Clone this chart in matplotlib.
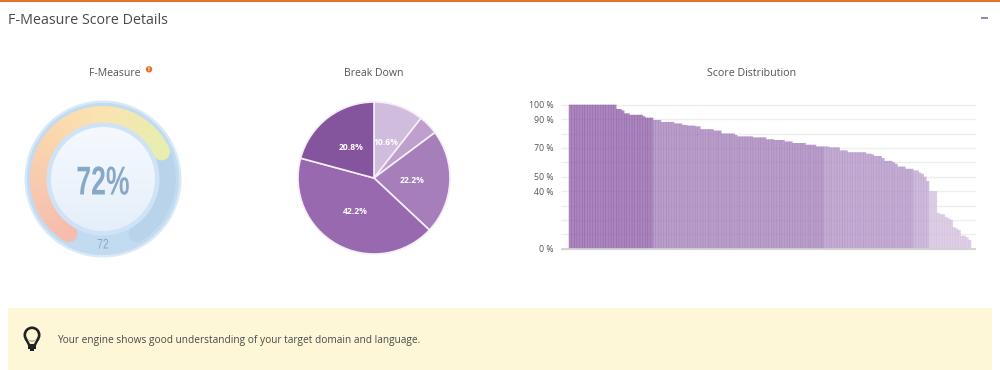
import matplotlib
matplotlib.use("Agg")
import matplotlib.pyplot as plt
import matplotlib.patheffects as pe
from matplotlib.transforms import Affine2D
import numpy as np
from matplotlib.patches import Circle, Wedge, Rectangle, Polygon
from matplotlib.colors import LinearSegmentedColormap

# ---- data ----
title = "F-Measure Score Details"
gauge_value = 72
gauge_label = "72%"
gauge_small = "72"
break_down = [10.6, 4.2, 22.2, 42.2, 20.8]
pie_colors = ["#d0bcdc", "#bfa0cd", "#a67fba", "#9869ae", "#84549c"]
band_counts = [32, 65, 34, 6, 16]
band_colors = ["#8a58a4", "#a079b6", "#ad8cc2", "#bba1cd", "#d0bcdc"]
scores = [100]*18 + [97]*2 + [96] + [94]*2 + [93]*5 + [92] + [91]*3 + [89.4]*3 \
    + [88]*5 + [87]*3 + [86]*2 + [85.5]*3 + [85]*2 + [83]*5 + [82]*3 + [80]*5 + [79] + [78]*6 \
    + [77.3]*5 + [76]*3 + [75.5]*4 + [74.5]*3 + [73.4]*5 + [72.2]*4 + [71]*5 + [70.4]*4 \
    + [68.3]*3 + [67]*7 + [66]*2 + [65.5] + [64.4]*3 + [63] + [61]*3 + [60] + [59] + [57]*3 \
    + [55.5]*3 + [54.4]*2 + [53] + [52] + [50] + [47] + [40]*3 + [25] + [24]*2 + [22] + [21] + [20] \
    + [15] + [14] + [13] + [9]*2 + [8] + [6]
grid_ticks = list(range(0, 101, 10))
labelled_ticks = [0, 40, 50, 70, 90, 100]
message = "Your engine shows good understanding of your target domain and language."

W, H = 1000, 370
FONT = "Open Sans"
plt.rcParams["font.family"] = [FONT, "DejaVu Sans"]
fig = plt.figure(figsize=(W/100, H/100), dpi=100, facecolor="white")

def axes_px(x0, y0, x1, y1):
    """axes from pixel box (y measured from the top of the picture)"""
    return fig.add_axes([x0/W, 1-y1/H, (x1-x0)/W, (y1-y0)/H])

class Squeeze(pe.AbstractPathEffect):
    """Narrow a real text horizontally about a pixel column (condensed face)."""
    def __init__(self, cx, sx):
        super().__init__()
        self.cx, self.sx = cx, sx
    def draw_path(self, renderer, gc, tpath, affine, rgbFace=None):
        t = affine + Affine2D().translate(-self.cx, 0).scale(self.sx, 1).translate(self.cx, 0)
        renderer.draw_path(gc, tpath, t, rgbFace)

# ---- page furniture ----
bg = axes_px(0, 0, W, H)
bg.set_xlim(0, W); bg.set_ylim(H, 0); bg.axis("off")
bg.add_patch(Rectangle((0, 0), W, 2, fc="#e8702a", ec="none"))
bg.text(8, 20, title, fontsize=10.3, color="#4a4a4a", va="center", ha="left")
bg.add_patch(Rectangle((980.5, 16.5), 7, 2.4, fc="#8a8fa8", ec="none"))
bg.text(115, 73.5, "F-Measure", fontsize=7.6, color="#555555", ha="center", va="center")
bg.add_patch(Circle((149, 69.3), 3.2, fc="#e8702a", ec="none"))
bg.text(149, 69.3, "!", fontsize=4.5, color="white", ha="center", va="center", fontweight="bold")
bg.text(374, 73.5, "Break Down", fontsize=7.6, color="#555555", ha="center", va="center")
bg.text(752, 73.5, "Score Distribution", fontsize=7.65, color="#555555", ha="center", va="center")
bg.add_patch(Rectangle((8, 308), 984, 62, fc="#fdf7d8", ec="none"))
bg.text(57, 340, message, fontsize=7.26, color="#4a4a4a", ha="left", va="center")
# bulb icon
bg.add_patch(Circle((32, 335), 7.2, fc="none", ec="#222222", lw=1.9))
bg.add_patch(Polygon([[26.5, 338.5], [28.5, 345], [35.5, 345], [37.5, 338.5], [33.8, 342], [30.2, 342]],
                     fc="#fdf7d8", ec="#fdf7d8", lw=1))
bg.plot([26.3, 28.9], [339.5, 344.5], color="#222222", lw=1.8)
bg.plot([37.7, 35.1], [339.5, 344.5], color="#222222", lw=1.8)
bg.add_patch(Rectangle((28.3, 344), 7.4, 5.2, fc="#222222", ec="none"))
bg.add_patch(Rectangle((29.8, 349), 4.4, 2, fc="#222222", ec="none"))

# ---- gauge ----
ga = axes_px(23, 99, 183, 259)
ga.set_xlim(-80, 80); ga.set_ylim(-80, 80); ga.axis("off")
disc = "#c3dbf0"
ga.add_patch(Circle((0, 0), 78.5, fc="#d9e9f7", ec="none", zorder=1))
ga.add_patch(Circle((0, 0), 76, fc=disc, ec="none", zorder=1))
START, SWEEP = 148.0, 296.0        # degrees either side of the top / total
R_OUT, R_IN = 73, 56
R_MID, R_W = (R_OUT+R_IN)/2, R_OUT-R_IN
def ang(frac):   # frac of sweep -> matplotlib angle
    return 90 + START - frac*SWEEP
def cap(frac, color):
    a = np.radians(ang(frac))
    ga.add_patch(Circle((R_MID*np.cos(a), R_MID*np.sin(a)), R_W/2, fc=color, ec="none", zorder=2))
track = "#b9d4ea"
cap(0, track); cap(1, track)
ga.add_patch(Wedge((0, 0), R_OUT, ang(1), ang(0), width=R_W, fc=track, ec="none", zorder=2))
cmap = LinearSegmentedColormap.from_list("g", ["#f7bcae", "#f9cfae", "#fce3b0", "#e7efb0"])
end = gauge_value/100
cap(0, cmap(0.0)); cap(end, cmap(1.0))
# gradient along the arc: angle of every image cell -> share of the coloured sweep
gx, gy = np.meshgrid(np.linspace(-80, 80, 640), np.linspace(-80, 80, 640))
cw_from_top = np.degrees(np.arctan2(gx, gy))
share = np.clip((cw_from_top + START)/(SWEEP*end), 0, 1)
arc_img = ga.imshow(cmap(share), extent=[-80, 80, -80, 80], origin="lower", aspect="auto", zorder=3)
arc_clip = Wedge((0, 0), R_OUT+1, ang(end), ang(0), width=R_W+2, fc="none", ec="none", zorder=3)
ga.add_patch(arc_clip)
arc_img.set_clip_path(arc_clip)
ga.add_patch(Wedge((0, 0), 76, 0, 360, width=3, fc=disc, ec="none", zorder=4))
ga.add_patch(Circle((0, 0), 56.5, fc="#d0e3f6", ec="none", zorder=4))
face = Circle((0, 0), 52, fc="none", ec="none", zorder=5)
ga.add_patch(face)
grad = LinearSegmentedColormap.from_list("f", ["#f5f9fe", "#e5eff9"])
im = ga.imshow(np.linspace(0, 1, 128).reshape(-1, 1), cmap=grad, extent=[-53, 53, -53, 53],
               origin="upper", aspect="auto", zorder=5)
im.set_clip_path(face)
ga.set_xlim(-80, 80); ga.set_ylim(-80, 80)
ga.text(0, -4.5, gauge_label, fontsize=29, color="#88a8c8", ha="center", va="center", zorder=6,
        fontweight="bold", family=["Liberation Sans", "DejaVu Sans"],
        path_effects=[Squeeze(102.8, 0.66)])
ga.text(0, -65.5, gauge_small, fontsize=10, color="#8ba9c8", ha="center", va="center", zorder=6,
        family=["Liberation Sans", "DejaVu Sans"], path_effects=[Squeeze(103, 0.74)])

# ---- pie ----
pa = axes_px(294, 98, 454, 258)
wedges, _, autotexts = pa.pie(
    break_down, colors=pie_colors, startangle=90, counterclock=False, radius=76,
    wedgeprops=dict(edgecolor="#f4eef7", linewidth=1.2),
    autopct=lambda p: f"{p:.1f}%" if p > 5 else "", pctdistance=0.5,
    textprops=dict(color="white", fontsize=6.2, fontweight="bold"))
pa.set_xlim(-80, 80); pa.set_ylim(-80, 80); pa.set_aspect("equal")

# ---- bars ----
ba = axes_px(560.7, 96, 975.7, 252.7)
n = len(scores)
x = np.arange(n)
colors = np.repeat(band_colors, band_counts)
bars = ba.bar(x, scores, width=1.2, color=colors, alpha=0.72, linewidth=0, zorder=3)
for b in bars:
    b.set_snap(False)
pitch = (971-569)/n
ba.set_xlim(-0.5-(569-560.7)/pitch, n-0.5+(975.7-971)/pitch)
ppp = 100/144.0
ba.set_ylim(-(252.7-248.7)*ppp, 100+(104.7-96)*ppp)
for s in ba.spines.values():
    s.set_visible(False)
ba.set_xticks([])
ba.set_yticks(grid_ticks)
ba.set_yticklabels([f"{t} %" if t in labelled_ticks else "" for t in grid_ticks],
                   fontsize=6.3, color="#555555", va="center_baseline")
ba.tick_params(axis="y", length=0, pad=5)
ba.yaxis.grid(True, color="#eeeeee", lw=1, zorder=0)
ba.axhline(0, color="#cfcfcf", lw=1.2, zorder=4)
ba.patch.set_alpha(0)

fig.savefig("out.png", dpi=100, facecolor="white")
